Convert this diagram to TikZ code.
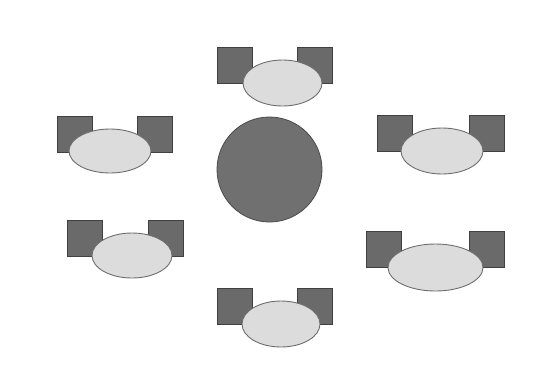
\documentclass[tikz,border=0pt]{standalone}
\usetikzlibrary{shapes.geometric}
\definecolor{chairgray}{HTML}{6A6A6A}
\definecolor{chairedge}{HTML}{404040}
\definecolor{tablefill}{HTML}{DCDCDC}
\definecolor{tableedge}{HTML}{6E6E6E}
\definecolor{hubfill}{HTML}{707070}
\definecolor{hubedge}{HTML}{4A4A4A}
\tikzset{
  chair/.style={draw=chairedge, fill=chairgray, line width=0.8pt, minimum width=35pt, minimum height=36pt, inner sep=0pt, outer sep=0pt},
  table/.style={ellipse, draw=tableedge, fill=tablefill, line width=0.9pt, inner sep=0pt, outer sep=0pt},
  hub/.style={circle, draw=hubedge, fill=hubfill, line width=0.8pt, minimum size=105pt, inner sep=0pt}
}
\begin{document}
\begin{tikzpicture}[x=1pt,y=-1pt]
\useasboundingbox (0,0) rectangle (535,365);
% central circle
\node[hub] (hub) at (269.5,169.5) {};
% top group
\node[chair] (c1l) at (234.5,65.5) {};
\node[chair] (c1r) at (314.5,65.5) {};
\node[table, minimum width=79pt, minimum height=46pt] (t1) at (282.5,83) {};
% upper left group
\node[chair] (c2l) at (75,134) {};
\node[chair] (c2r) at (154.5,134) {};
\node[table, minimum width=82pt, minimum height=44pt] (t2) at (110,151) {};
% upper right group
\node[chair] (c3l) at (395,133.5) {};
\node[chair] (c3r) at (487,133.5) {};
\node[table, minimum width=82pt, minimum height=46pt] (t3) at (442,151) {};
% lower left group
\node[chair] (c4l) at (85,238) {};
\node[chair] (c4r) at (166,238) {};
\node[table, minimum width=80pt, minimum height=45pt] (t4) at (132,255.5) {};
% lower right group
\node[chair] (c5l) at (384,249.5) {};
\node[chair] (c5r) at (486.5,249.5) {};
\node[table, minimum width=95pt, minimum height=47pt] (t5) at (435.5,267.5) {};
% bottom group
\node[chair] (c6l) at (235,306) {};
\node[chair] (c6r) at (314.5,306) {};
\node[table, minimum width=78pt, minimum height=46pt] (t6) at (281,324) {};
\end{tikzpicture}
\end{document}
